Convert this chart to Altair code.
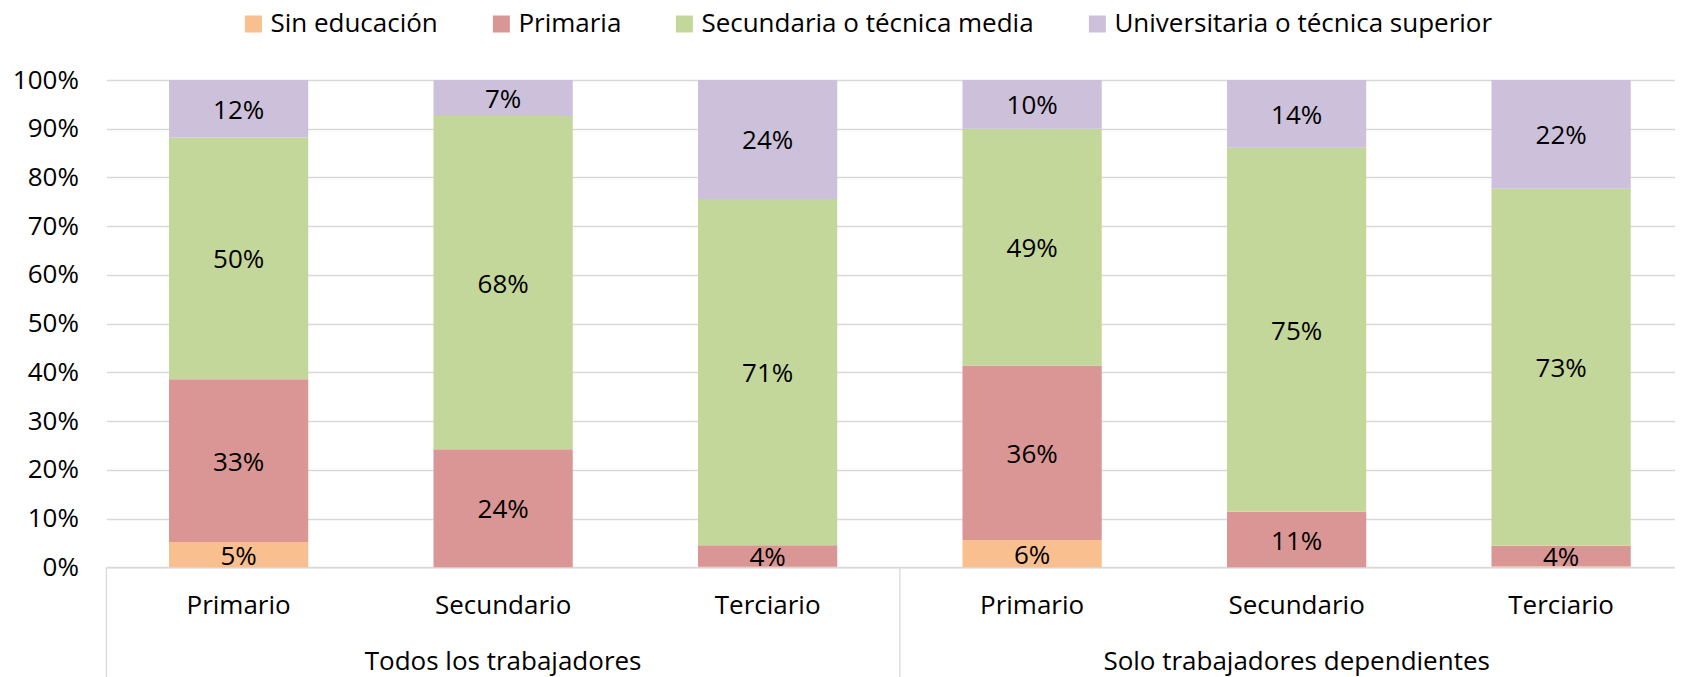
import altair as alt
import pandas as pd

groups = ["Todos los trabajadores", "Solo trabajadores dependientes"]
sectors = ["Primario", "Secundario", "Terciario"]
levels = ["Sin educación", "Primaria", "Secundaria o técnica media", "Universitaria o técnica superior"]
colors = ["#FABF8F", "#DA9694", "#C4D79B", "#CCC0DA"]

# shares (%) per bar, order: Todos(Primario, Secundario, Terciario), Solo(Primario, Secundario, Terciario)
sin_educacion = [5.2, 0.0, 0.1, 5.6, 0.0, 0.2]
primaria = [33.4, 24.2, 4.4, 35.8, 11.4, 4.2]
secundaria = [49.6, 68.4, 71.1, 48.6, 74.7, 73.3]
universitaria = [11.8, 7.4, 24.4, 10.0, 13.9, 22.3]
y_ticks = [0, 10, 20, 30, 40, 50, 60, 70, 80, 90, 100]

keys = [f"{g}|{s}" for g in groups for s in sectors]
series = [sin_educacion, primaria, secundaria, universitaria]
rows = []
for i, k in enumerate(keys):
    for j, lev in enumerate(levels):
        rows.append({"key": k, "nivel": lev, "idx": j, "v": series[j][i]})
df = pd.DataFrame(rows)

grp_df = pd.DataFrame({"key": [f"{g}|{sectors[1]}" for g in groups], "g": groups})
sep_df = pd.DataFrame({"key": [f"{g}|{sectors[0]}" for g in groups]})

FONT = "Open Sans"
FS = 26
W = 1569
H = 487.3
PAD_L, PAD_T, PAD_B = 98.4, 72, 109.7
GRID = "#D9D9D9"
P_IN = 0.4735
P_OUT = 0.20272
STEP = W / (6 - P_IN + 2 * P_OUT)

x_scale = alt.Scale(domain=keys, paddingInner=P_IN, paddingOuter=P_OUT, align=0.5837)
y_scale = alt.Scale(domain=[0, 100], nice=False)

base = alt.Chart(df).transform_stack(
    stack="v", groupby=["key"], as_=["v0", "v1"],
    sort=[alt.SortField("idx", order="ascending")]
).transform_calculate(
    mid="(datum.v0 + datum.v1) / 2",
    lbl="format(datum.v, '.0f') + '%'"
)

bars = base.mark_bar().encode(
    x=alt.X("key:N", scale=x_scale, sort=keys, title=None,
            axis=alt.Axis(labelExpr="split(datum.label, '|')[1]", labelFont=FONT,
                          labelFontSize=FS, labelColor="#000000", labelPadding=46.7,
                          labelBaseline="alphabetic", labelAngle=0, ticks=False, tickSize=0,
                          domainColor=GRID, domainWidth=1.3, grid=False)),
    y=alt.Y("v0:Q", scale=y_scale, title=None,
            axis=alt.Axis(values=y_ticks, labelExpr="datum.value + '%'", labelFont=FONT,
                          labelFontSize=FS, labelColor="#000000", labelPadding=28,
                          grid=True, gridColor=GRID, gridWidth=1.3, domain=False,
                          ticks=False, tickSize=0)),
    y2="v1:Q",
    color=alt.Color("nivel:N", scale=alt.Scale(domain=levels, range=colors),
                    legend=alt.Legend(title=None, orient="none", legendX=134, legendY=-69,
                                      direction="horizontal", symbolType="square",
                                      symbolSize=289, symbolStrokeWidth=0, labelFont=FONT,
                                      labelFontSize=FS, labelColor="#000000", labelOffset=4,
                                      columnPadding=50, labelLimit=1000, padding=0)),
    order=alt.Order("idx:Q", sort="ascending"),
)

labels = base.transform_filter("datum.v >= 1").mark_text(
    font=FONT, fontSize=FS, color="#000000", baseline="middle", dy=2
).encode(
    x=alt.X("key:N", scale=x_scale, sort=keys, title=None),
    y=alt.Y("mid:Q", scale=y_scale, title=None),
    text="lbl:N",
)

grp = alt.Chart(grp_df).mark_text(
    font=FONT, fontSize=FS, color="#000000", baseline="alphabetic"
).encode(
    x=alt.X("key:N", scale=x_scale, sort=keys, title=None),
    y=alt.value(H + 102.7),
    text="g:N",
)

sep = alt.Chart(sep_df).mark_rule(
    color=GRID, strokeWidth=1.3, xOffset=-(P_IN * STEP / 2)
).encode(
    x=alt.X("key:N", scale=x_scale, sort=keys, bandPosition=0, title=None),
    y=alt.value(H),
    y2=alt.value(H + PAD_B),
)

chart = alt.layer(bars, labels, grp, sep).properties(
    width=W, height=H,
    autosize=alt.AutoSizeParams(type="none"),
    padding={"left": PAD_L, "top": PAD_T, "right": 0, "bottom": PAD_B},
    background="#ffffff",
).configure_view(stroke=None)

chart.save("out.html", embed_options={"renderer": "svg", "actions": False})
